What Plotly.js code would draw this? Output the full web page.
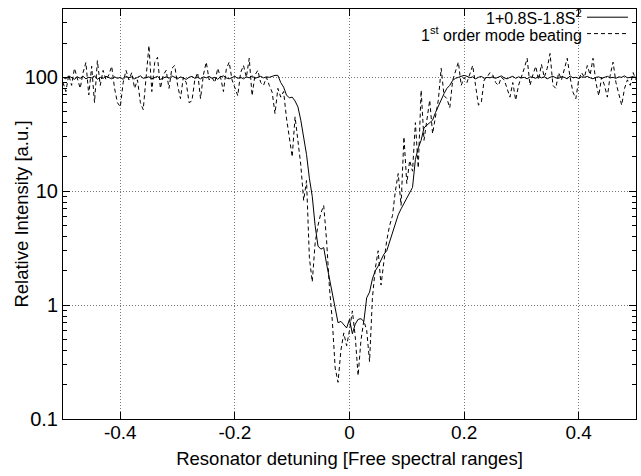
<!DOCTYPE html>
<html>
<head>
<meta charset="utf-8">
<script src="https://cdn.plot.ly/plotly-3.0.1.min.js"></script>
<style>html,body{margin:0;padding:0;background:#fff;}#chart{width:641px;height:476px;}</style>
</head>
<body>
<div id="chart"></div>
<script>
// Detuning sample positions [free spectral ranges]
const detuning = [
-0.500,-0.495,-0.490,-0.485,-0.480,-0.475,-0.470,-0.465,-0.460,-0.455,
-0.450,-0.445,-0.440,-0.435,-0.430,-0.425,-0.420,-0.415,-0.410,-0.405,
-0.400,-0.395,-0.390,-0.385,-0.380,-0.375,-0.370,-0.365,-0.360,-0.355,
-0.350,-0.345,-0.340,-0.335,-0.330,-0.325,-0.320,-0.315,-0.310,-0.305,
-0.300,-0.295,-0.290,-0.285,-0.280,-0.275,-0.270,-0.265,-0.260,-0.255,
-0.250,-0.245,-0.240,-0.235,-0.230,-0.225,-0.220,-0.215,-0.210,-0.205,
-0.200,-0.195,-0.190,-0.185,-0.180,-0.175,-0.170,-0.165,-0.160,-0.155,
-0.150,-0.145,-0.140,-0.135,-0.130,-0.125,-0.120,-0.115,-0.110,-0.105,
-0.100,-0.095,-0.090,-0.085,-0.080,-0.075,-0.070,-0.065,-0.060,-0.055,
-0.050,-0.045,-0.040,-0.035,-0.030,-0.025,-0.020,-0.015,-0.010,-0.005,
0.000,0.005,0.010,0.015,0.020,0.025,0.030,0.035,0.040,0.045,
0.050,0.055,0.060,0.065,0.070,0.075,0.080,0.085,0.090,0.095,
0.100,0.105,0.110,0.115,0.120,0.125,0.130,0.135,0.140,0.145,
0.150,0.155,0.160,0.165,0.170,0.175,0.180,0.185,0.190,0.195,
0.200,0.205,0.210,0.215,0.220,0.225,0.230,0.235,0.240,0.245,
0.250,0.255,0.260,0.265,0.270,0.275,0.280,0.285,0.290,0.295,
0.300,0.305,0.310,0.315,0.320,0.325,0.330,0.335,0.340,0.345,
0.350,0.355,0.360,0.365,0.370,0.375,0.380,0.385,0.390,0.395,
0.400,0.405,0.410,0.415,0.420,0.425,0.430,0.435,0.440,0.445,
0.450,0.455,0.460,0.465,0.470,0.475,0.480,0.485,0.490,0.495,
0.500];

// Model 1+0.8S-1.8S^2 (solid)
const modelIntensity = [
100,97,103,99,96,101,98,102,97,100,
99,103,96,100,98,102,99,97,101,98,
100,96,102,99,101,97,100,103,98,99,
101,97,100,102,96,99,101,98,103,100,
97,101,99,96,100,102,98,100,97,101,
99,102,98,100,96,101,103,99,97,100,
102,98,100,97,101,99,103,98,100,102,
99,101,100,102,104,104,90,82,70,66,
67,62,55,42,29,21,13,9,5,3.3,
3.1,3.2,2.3,1.7,1.2,0.95,0.70,0.72,0.68,0.63,
0.75,0.56,0.68,0.75,0.76,0.72,1.16,1.3,1.7,2.0,
2.2,2.5,2.8,3.0,3.6,4.5,5.3,6.2,7.0,7.8,
8.8,9.6,10.8,19,24,28,36,38,40,42,
49,56,63,72,80,85,94,98,100,102,
104,102,99,101,97,100,102,98,100,99,
101,98,100,103,99,97,100,102,98,101,
99,100,97,101,100,98,102,99,101,97,
100,102,99,98,101,100,97,103,99,100,
98,101,100,102,99,97,100,101,98,100,
102,99,100,98,101,100,103,99,100,101,
100];

// 1st order mode beating (dashed)
const beatingIntensity = [
90,75,105,85,120,95,80,110,135,70,
125,60,140,85,115,95,105,125,80,60,
55,90,115,95,110,80,95,60,52,100,
190,75,135,150,80,105,115,80,120,127,
85,65,100,90,60,62,95,110,65,105,
136,95,100,90,120,100,75,118,136,95,
80,69,110,127,100,147,69,105,115,90,
85,100,85,74,48,80,67,75,44,28,
20,45,28,17,8.3,12.4,2.6,1.6,3.5,5,
6.4,7.5,3.7,1.42,0.73,0.28,0.21,0.40,0.57,0.44,
0.60,0.89,0.53,0.24,0.49,0.73,0.60,0.32,1.16,2.1,
3.0,1.5,2.4,3.7,5,6.1,10,14.3,7.5,30,
11.7,18.6,15,40,16,77,28,42,63,32,
46,63,120,69,65,54,94,115,136,85,
100,90,105,127,85,57,60,95,100,110,
105,90,85,100,95,80,67,90,63,85,
100,120,147,85,105,125,95,130,100,120,
162,85,80,110,95,120,147,100,74,65,
95,110,100,127,105,147,90,69,100,85,
67,105,136,90,70,57,80,95,85,110,
95];

const xTickVals = [-0.4, -0.2, 0, 0.2, 0.4];
const xTickText = ['-0.4', '-0.2', '0', '0.2', '0.4'];
const yTickVals = [0.1, 1, 10, 100];
const yTickText = ['0.1', '1', '10', '100'];
const yMinorVals = [0.2,0.3,0.4,0.5,0.6,0.7,0.8,0.9,2,3,4,5,6,7,8,9,20,30,40,50,60,70,80,90,200,300];
const seriesNames = ['1+0.8S-1.8S<sup>2</sup>', '1<sup>st</sup> order mode beating'];
const xTitle = 'Resonator detuning [Free spectral ranges]';
const yTitle = 'Relative Intensity [a.u.]';

const font = 'Liberation Sans, Arial, Helvetica, sans-serif';

const traces = [
  {x: detuning, y: modelIntensity, type: 'scatter', mode: 'lines', name: seriesNames[0],
   line: {color: '#000', width: 1, dash: 'solid'}},
  {x: detuning, y: beatingIntensity, type: 'scatter', mode: 'lines', name: seriesNames[1],
   line: {color: '#000', width: 1, dash: '4px,3px'}}
];

const layout = {
  width: 641, height: 476,
  margin: {l: 63, r: 5, t: 9, b: 57},
  paper_bgcolor: '#fff', plot_bgcolor: '#fff',
  showlegend: false,
  font: {family: font, color: '#000', size: 18},
  xaxis: {
    range: [-0.5, 0.5], tickmode: 'array', tickvals: xTickVals, ticktext: xTickText,
    ticks: 'inside', ticklen: 7, tickcolor: '#000', mirror: 'ticks', showline: true,
    linecolor: '#000', linewidth: 1, zeroline: false,
    showgrid: true, gridcolor: '#777', griddash: '1px,2px', gridwidth: 1,
    tickfont: {size: 19, family: font}, ticklabelstandoff: -4,
    title: {text: xTitle, font: {size: 18.5, family: font}, standoff: 10}
  },
  yaxis: {
    type: 'log', range: [-1, 2.6], tickmode: 'array', tickvals: yTickVals, ticktext: yTickText,
    ticks: 'inside', ticklen: 7, tickcolor: '#000', mirror: 'ticks', showline: true,
    linecolor: '#000', linewidth: 1, zeroline: false,
    showgrid: true, gridcolor: '#777', griddash: '1px,2px', gridwidth: 1,
    minor: {tickmode: 'array', tickvals: yMinorVals, ticks: 'inside', ticklen: 4, tickcolor: '#000', showgrid: false},
    tickfont: {size: 20, family: font}
  },
  shapes: [
    {type: 'rect', xref: 'paper', yref: 'paper', x0: 0.675, x1: 1, y0: 0.922, y1: 1,
     fillcolor: '#fff', line: {width: 0}, layer: 'between'},
    {type: 'line', xref: 'paper', yref: 'paper', x0: 0.9145, x1: 0.986, y0: 0.980, y1: 0.980,
     line: {color: '#000', width: 1}},
    {type: 'line', xref: 'paper', yref: 'paper', x0: 0.9145, x1: 0.986, y0: 0.940, y1: 0.940,
     line: {color: '#000', width: 1, dash: '4px,3px'}}
  ],
  annotations: [
    {xref: 'paper', yref: 'paper', x: 0.9075, y: 0.980, xanchor: 'right', yanchor: 'middle',
     text: seriesNames[0], showarrow: false, font: {size: 16, family: font}, borderpad: 0},
    {xref: 'paper', yref: 'paper', x: 0.9075, y: 0.940, xanchor: 'right', yanchor: 'middle',
     text: seriesNames[1], showarrow: false, font: {size: 16, family: font}, borderpad: 0},
    {xref: 'paper', yref: 'paper', x: -0.074, y: 0.5, xanchor: 'center', yanchor: 'middle',
     text: yTitle, textangle: -90, showarrow: false, font: {size: 18.5, family: font}}
  ]
};

Plotly.newPlot('chart', traces, layout, {displayModeBar: false, staticPlot: true});
</script>
</body>
</html>
